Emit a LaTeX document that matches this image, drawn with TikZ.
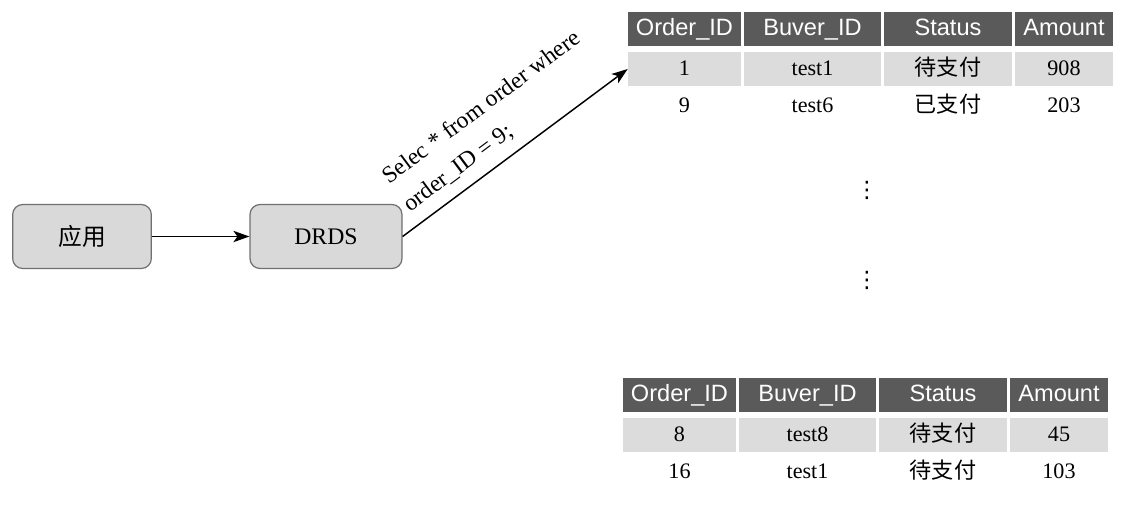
\documentclass[tikz,border=0pt]{standalone}
\usepackage{fontspec}
\setmainfont{Liberation Serif}
\setsansfont{Liberation Sans}
\newfontfamily\cjk{Noto Sans CJK SC}
\newfontfamily\symfont{DejaVu Sans}
\usetikzlibrary{arrows.meta}

\definecolor{hdrgray}{HTML}{5A5A5A}
\definecolor{rowgray}{HTML}{DCDCDC}
\definecolor{boxgray}{HTML}{D9D9D9}
\definecolor{edgegray}{HTML}{707070}

\tikzset{
  appbox/.style={draw=edgegray, fill=boxgray, line width=0.9pt, rounded corners=7.5pt,
    minimum height=48pt, inner sep=0pt, font=\fontsize{17.8}{20}\selectfont},
  hdrcell/.style={fill=hdrgray, text=white, minimum height=25.5pt, inner sep=0pt,
    text height=12.5pt, text depth=3.5pt, font=\sffamily\fontsize{17.7}{20}\selectfont},
  graycell/.style={fill=rowgray, minimum height=25.5pt, inner sep=0pt,
    text height=11.5pt, text depth=2.5pt, font=\fontsize{16.6}{18}\selectfont},
  plaincell/.style={minimum height=25.5pt, inner sep=0pt,
    text height=11.5pt, text depth=2.5pt, font=\fontsize{16.6}{18}\selectfont},
  gapdots/.style={inner sep=0pt, font=\symfont\fontsize{17}{18}\selectfont},
  flow/.style={line width=1.1pt, -{Stealth[length=12pt, width=8.5pt, inset=3pt]}}
}

\begin{document}
\begin{tikzpicture}[x=0.75pt, y=-0.75pt]
    \useasboundingbox (0,0) rectangle (1130,514);

    % draw boxes
    \node[appbox, minimum width=104pt] (app) at (82,236.5) {\cjk 应用};
    \node[appbox, minimum width=114pt] (drds) at (326,236.5) {DRDS};

    % draw top table
    \begin{scope}[shift={(628,29)}]
      \foreach \cx/\w/\hd/\ra/\rb [count=\i] in {56.5/84.75pt/Order\_ID/1/9,
          184.5/102.75pt/Buver\_ID/test1/test6,
          320/96pt/Status/{\cjk 待支付}/{\cjk 已支付},
          436/73.5pt/Amount/908/203} {
        \node[hdrcell, minimum width=\w] (top-h\i) at (\cx,0) {\hd};
        \node[graycell, minimum width=\w] (top-a\i) at (\cx,40) {\ra};
        \node[plaincell, minimum width=\w] (top-b\i) at (\cx,77) {\rb};
      }
    \end{scope}

    % draw bottom table
    \begin{scope}[shift={(623,395)}]
      \foreach \cx/\w/\hd/\ra/\rb [count=\i] in {56.5/84.75pt/Order\_ID/8/16,
          184.5/102.75pt/Buver\_ID/test8/test1,
          320/96pt/Status/{\cjk 待支付}/{\cjk 待支付},
          436/73.5pt/Amount/45/103} {
        \node[hdrcell, minimum width=\w] (bot-h\i) at (\cx,0) {\hd};
        \node[graycell, minimum width=\w] (bot-a\i) at (\cx,40) {\ra};
        \node[plaincell, minimum width=\w] (bot-b\i) at (\cx,77) {\rb};
      }
    \end{scope}

    % draw dots
    \node[gapdots] (gap1) at (867,190) {⋮};
    \node[gapdots] (gap2) at (867,280) {⋮};

    % draw arrows
    \draw[flow] (app.east) -- (drds.west);
    \draw[flow] (drds.east) -- (top-a1.west)
      node[midway, sloped, above=8pt, inner sep=0pt, align=left,
        font=\fontsize{17.7}{26}\selectfont] (query) {Selec * from order where\\order\_ID = 9;};
\end{tikzpicture}
\end{document}
